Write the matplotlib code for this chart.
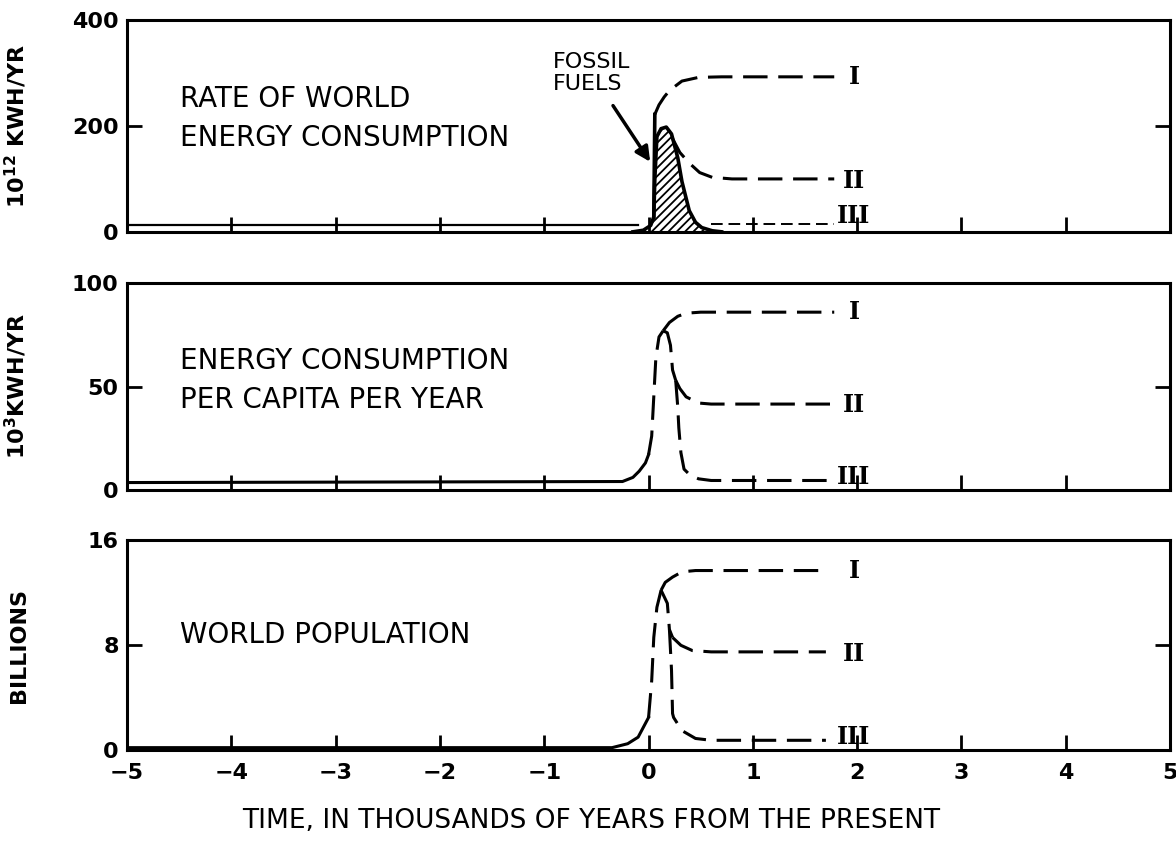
import numpy as np
import matplotlib.pyplot as plt

# time axis, thousands of years from present
xticks = [-5, -4, -3, -2, -1, 0, 1, 2, 3, 4, 5]

# ---- top panel: rate of world energy consumption (10^12 kWh/yr)
fossil_x = [-0.15, -0.05, 0.02, 0.05, 0.06, 0.08, 0.12, 0.17, 0.22, 0.28, 0.32, 0.39, 0.45, 0.51, 0.61, 0.7]
fossil_y = [0, 3, 12, 28, 100, 180, 195, 198, 185, 140, 95, 40, 18, 8, 2, 0]
e_base_x = [-5.0, -0.1]
e_base_y = [12, 12]
e1_x = [0.06, 0.1, 0.15, 0.2, 0.32, 0.48, 0.7, 1.78]
e1_y = [222, 240, 255, 267, 285, 292, 293, 293]
e2_x = [0.22, 0.3, 0.39, 0.49, 0.61, 0.8, 1.78]
e2_y = [180, 150, 130, 112, 103, 100, 100]
e3_x = [0.6, 1.78]
e3_y = [14, 14]

# ---- middle panel: energy consumption per capita (10^3 kWh/yr)
c_base_x = [-5.0, -0.25, -0.15, -0.09, -0.03, 0.0]
c_base_y = [3.5, 4, 6, 9, 13, 17]
c_rise_x = [0.0, 0.03, 0.05, 0.07, 0.1, 0.14]
c_rise_y = [17, 26, 45, 64, 74, 77]
c1_x = [0.14, 0.2, 0.28, 0.36, 0.5, 1.78]
c1_y = [77, 81, 84, 85.5, 86, 86]
c_down_x = [0.14, 0.18, 0.21, 0.23, 0.26]
c_down_y = [77, 76, 70, 58, 53]
c2_x = [0.26, 0.3, 0.36, 0.48, 0.6, 1.78]
c2_y = [53, 49, 45, 42, 41.5, 41.5]
c3_x = [0.26, 0.28, 0.29, 0.31, 0.34, 0.4, 0.48, 0.6, 1.78]
c3_y = [53, 40, 30, 18, 10, 7, 5.3, 4.5, 4.5]

# ---- bottom panel: world population (billions)
p_base_x = [-5.0, -0.35, -0.2, -0.1, 0.0]
p_base_y = [0.2, 0.2, 0.5, 1.0, 2.5]
p_rise_x = [0.0, 0.03, 0.05, 0.08, 0.12]
p_rise_y = [2.5, 5.3, 8.6, 10.9, 12.2]
p1_x = [0.12, 0.16, 0.23, 0.32, 0.45, 1.7]
p1_y = [12.2, 12.8, 13.2, 13.6, 13.7, 13.7]
p_down_x = [0.12, 0.18, 0.2, 0.23]
p_down_y = [12.2, 11.2, 9.2, 8.6]
p2_x = [0.23, 0.31, 0.42, 0.6, 1.7]
p2_y = [8.6, 8.0, 7.6, 7.5, 7.5]
p3_x = [0.2, 0.22, 0.23, 0.24, 0.32, 0.45, 0.6, 1.7]
p3_y = [9.2, 6.1, 2.8, 2.5, 1.5, 0.9, 0.76, 0.76]

roman = ["I", "II", "III"]
e_lab_y = [293, 97, 30]
c_lab_y = [86, 41, 6]
p_lab_y = [13.7, 7.3, 1.0]

plt.rcParams['font.family'] = 'DejaVu Sans'
plt.rcParams['hatch.linewidth'] = 1.3

fig = plt.figure(figsize=(11.76, 8.43), dpi=100)
L, W = 0.108, 0.887
ax1 = fig.add_axes([L, 0.725, W, 0.251])
ax2 = fig.add_axes([L, 0.419, W, 0.245], sharex=ax1)
ax3 = fig.add_axes([L, 0.110, W, 0.249], sharex=ax1)

dash = (0, (8, 3.5))
lw = 2.2

def style(ax, top, mid):
    ax.set_xlim(-5, 5)
    ax.set_ylim(0, top)
    ax.set_yticks([0, mid, top])
    ax.set_xticks(xticks)
    ax.tick_params(direction='in', length=11, width=2, right=True,
                   labelsize=16, pad=6)
    ax.tick_params(axis='x', pad=9)
    for lab in ax.get_yticklabels():
        lab.set_fontweight('bold')
    for s in ax.spines.values():
        s.set_linewidth(2.2)

def numerals(ax, ys):
    for r, y in zip(roman, ys):
        ax.text(1.97, y, r, family='DejaVu Serif', fontweight='bold',
                fontsize=17, ha='center', va='center')

# top
ax1.fill_between(fossil_x, fossil_y, 0, facecolor='white', hatch='////',
                 edgecolor='black', linewidth=0)
ax1.plot(fossil_x, fossil_y, color='black', lw=2.6)
ax1.plot(e_base_x, e_base_y, color='black', lw=1.6)
ax1.plot([0.05, 0.06], [28, 222], color='black', lw=2.6)
ax1.plot(e1_x, e1_y, color='black', lw=lw, ls=dash)
ax1.plot(e2_x, e2_y, color='black', lw=lw, ls=dash)
ax1.plot(e3_x, e3_y, color='black', lw=1.4, ls=(0, (6, 3)))
style(ax1, 400, 200)
numerals(ax1, e_lab_y)
ax1.text(-4.49, 215, "RATE OF WORLD\nENERGY CONSUMPTION", fontsize=20,
         ha='left', va='center', linespacing=1.5)
ax1.annotate("FOSSIL\nFUELS", xy=(0.03, 128), xytext=(-0.92, 340),
             fontsize=16, ha='left', va='top', linespacing=1.1,
             arrowprops=dict(arrowstyle='-|>', color='black', lw=2.5,
                             mutation_scale=22, shrinkA=8))
ax1.set_ylabel(r"$\mathregular{10^{12}}$ KWH/YR", fontsize=16, fontweight='bold')
ax1.yaxis.set_label_coords(-0.094, 0.5)
ax1.tick_params(labelbottom=False)

# middle
ax2.plot(c_base_x, c_base_y, color='black', lw=lw)
for xs, ys in [(c_rise_x, c_rise_y), (c1_x, c1_y), (c_down_x, c_down_y),
               (c2_x, c2_y), (c3_x, c3_y)]:
    ax2.plot(xs, ys, color='black', lw=lw, ls=dash)
style(ax2, 100, 50)
numerals(ax2, c_lab_y)
ax2.text(-4.49, 53, "ENERGY CONSUMPTION\nPER CAPITA PER YEAR", fontsize=20,
         ha='left', va='center', linespacing=1.5)
ax2.set_ylabel(r"$\mathregular{10^{3}}$KWH/YR", fontsize=16, fontweight='bold')
ax2.yaxis.set_label_coords(-0.094, 0.5)
ax2.tick_params(labelbottom=False)

# bottom
ax3.plot(p_base_x, p_base_y, color='black', lw=lw)
for xs, ys in [(p_rise_x, p_rise_y), (p1_x, p1_y), (p_down_x, p_down_y),
               (p2_x, p2_y), (p3_x, p3_y)]:
    ax3.plot(xs, ys, color='black', lw=lw, ls=dash)
style(ax3, 16, 8)
numerals(ax3, p_lab_y)
ax3.text(-4.49, 8.8, "WORLD POPULATION", fontsize=20, ha='left', va='center')
ax3.set_ylabel("BILLIONS", fontsize=16, fontweight='bold')
ax3.yaxis.set_label_coords(-0.094, 0.5)
for lab in ax3.get_xticklabels():
    lab.set_fontweight('bold')
ax3.set_xlabel("TIME, IN THOUSANDS OF YEARS FROM THE PRESENT", fontsize=19,
               va='center')
ax3.xaxis.set_label_coords(0.445, -0.335)

fig.savefig("out.png", dpi=100, facecolor='white')
